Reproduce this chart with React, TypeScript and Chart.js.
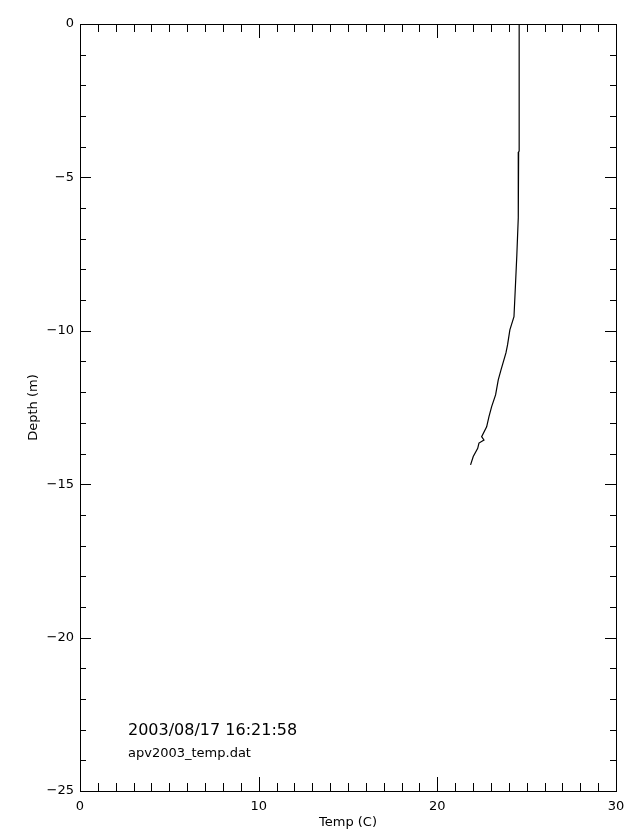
import React, { useEffect, useRef } from "react";
import { Chart, registerables } from "chart.js";

Chart.register(...registerables);

// Temperature (C) along the cast, and the matching depth (m, negative down)
const temps = [24.58, 24.58, 24.55, 24.53, 24.45, 24.36, 24.29, 24.06, 23.93, 23.84, 23.56, 23.41, 23.26, 23.04, 22.89, 22.76, 22.48, 22.61, 22.33, 22.26, 22.01, 21.86];
const depths = [0, -4.14, -4.17, -6.32, -7.53, -8.67, -9.54, -9.97, -10.46, -10.72, -11.28, -11.6, -12.09, -12.47, -12.8, -13.13, -13.45, -13.56, -13.66, -13.83, -14.1, -14.37];

const xRange = [0, 30];
const yRange = [-25, 0];
const xMajor = 10;
const xMinor = 1;
const yMajor = 5;
const yMinor = 1;

const xTitle = "Temp (C)";
const yTitle = "Depth (m)";
const stampText = "2003/08/17 16:21:58";
const fileText = "apv2003_temp.dat";

const FONT = "'DejaVu Sans', sans-serif";

const framePlugin = {
  id: "frame",
  afterDatasetsDraw(chart: any) {
    const { ctx, chartArea: a, scales } = chart;
    const x = scales.x;
    const y = scales.y;
    ctx.save();
    ctx.strokeStyle = "#000";
    ctx.lineWidth = 1;
    ctx.strokeRect(a.left + 0.5, a.top + 0.5, a.right - a.left, a.bottom - a.top);
    ctx.beginPath();
    for (let v = xRange[0]; v <= xRange[1] + 1e-9; v += xMinor) {
      const px = Math.round(x.getPixelForValue(v)) + 0.5;
      const major = Math.abs(v / xMajor - Math.round(v / xMajor)) < 1e-6;
      const len = major ? 14 : 8;
      ctx.moveTo(px, a.bottom);
      ctx.lineTo(px, a.bottom - len);
      ctx.moveTo(px, a.top);
      ctx.lineTo(px, a.top + len);
    }
    for (let v = yRange[0]; v <= yRange[1] + 1e-9; v += yMinor) {
      const py = Math.round(y.getPixelForValue(v)) + 0.5;
      const major = Math.abs(v / yMajor - Math.round(v / yMajor)) < 1e-6;
      const len = major ? 11 : 6;
      ctx.moveTo(a.left, py);
      ctx.lineTo(a.left + len, py);
      ctx.moveTo(a.right, py);
      ctx.lineTo(a.right - len, py);
    }
    ctx.stroke();

    ctx.fillStyle = "#000";
    ctx.textAlign = "left";
    ctx.textBaseline = "alphabetic";
    ctx.font = `16px ${FONT}`;
    ctx.fillText(stampText, a.left + 48, a.bottom - 56);
    ctx.font = `13px ${FONT}`;
    ctx.fillText(fileText, a.left + 48, a.bottom - 34);
    ctx.restore();
  },
};

export default function App() {
  const ref = useRef<HTMLCanvasElement>(null);
  useEffect(() => {
    if (!ref.current) return;
    Chart.defaults.color = "#000";
    const chart = new Chart(ref.current, {
      type: "scatter",
      data: {
        datasets: [
          {
            data: temps.map((t, i) => ({ x: t, y: depths[i] })),
            showLine: true,
            borderColor: "#000",
            backgroundColor: "#000",
            borderWidth: 1.2,
            pointRadius: 0,
            tension: 0,
          },
        ],
      },
      options: {
        animation: false,
        responsive: false,
        layout: { padding: { top: 24, right: 24, left: 0, bottom: 0 } },
        plugins: { legend: { display: false }, tooltip: { enabled: false } },
        scales: {
          x: {
            type: "linear",
            min: xRange[0],
            max: xRange[1],
            grid: { display: false, drawTicks: false },
            border: { display: false },
            ticks: { stepSize: xMajor, padding: 8, font: { family: FONT, size: 13 }, color: "#000", maxRotation: 0 },
            title: { display: true, text: xTitle, font: { family: FONT, size: 13 }, color: "#000", padding: { top: 0, bottom: 10 } },
            afterFit(scale: any) {
              scale.height = 49;
            },
          },
          y: {
            type: "linear",
            min: yRange[0],
            max: yRange[1],
            grid: { display: false, drawTicks: false },
            border: { display: false },
            ticks: {
              stepSize: yMajor,
              padding: 6,
              font: { family: FONT, size: 13 },
              color: "#000",
              callback: (v: any) => (Number(v) < 0 ? "\u2212" + Math.abs(Number(v)) : String(v)),
            },
            title: { display: true, text: yTitle, font: { family: FONT, size: 13 }, color: "#000", padding: { top: 26, bottom: 0 } },
            afterFit(scale: any) {
              scale.width = 80;
            },
          },
        },
      },
      plugins: [framePlugin],
    });
    return () => chart.destroy();
  }, []);
  return (
    <div style={{ position: "absolute", left: 0, top: 0, width: 640, height: 840, background: "#fff" }}>
      <canvas ref={ref} width={640} height={840} style={{ display: "block" }} />
    </div>
  );
}
